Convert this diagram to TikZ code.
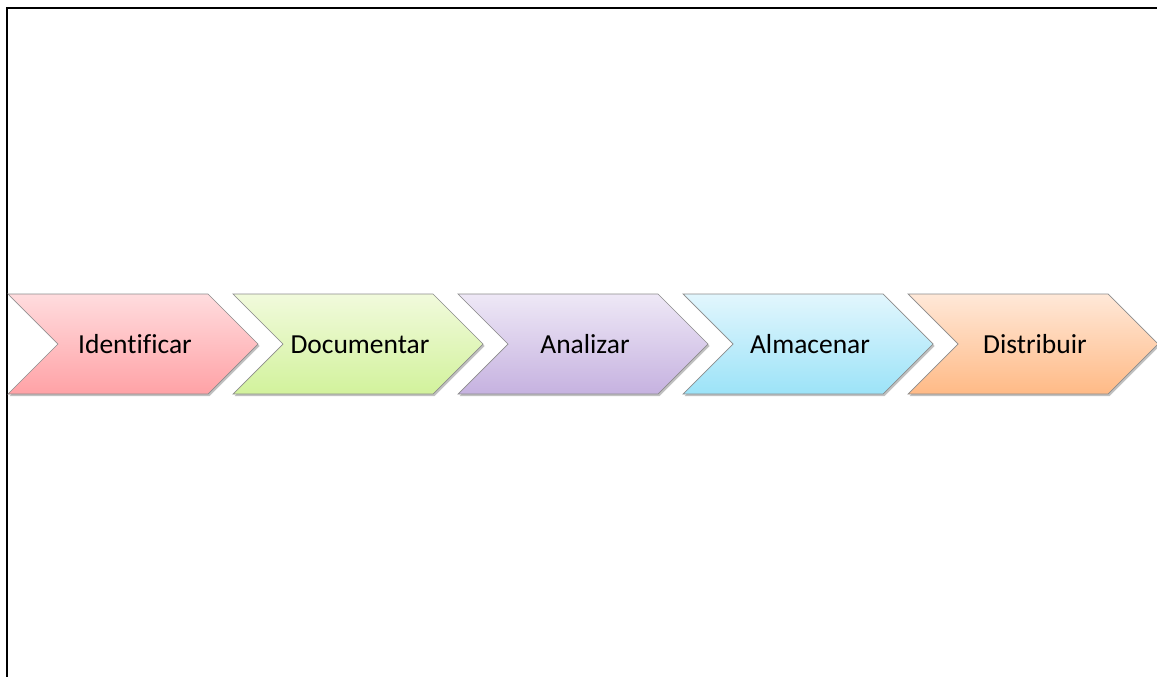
\documentclass[tikz,border=0pt]{standalone}
\usepackage{fontspec}
\setmainfont{Carlito}[Ligatures={NoCommon}]
\usetikzlibrary{shadows}
\definecolor{redtop}{HTML}{FFDCDE}
\definecolor{redbot}{HTML}{FFA2A6}
\definecolor{greentop}{HTML}{F1FADC}
\definecolor{greenbot}{HTML}{D2F29C}
\definecolor{purpletop}{HTML}{EEE8F6}
\definecolor{purplebot}{HTML}{C6B2E0}
\definecolor{bluetop}{HTML}{E2F6FD}
\definecolor{bluebot}{HTML}{9CE3F8}
\definecolor{orangetop}{HTML}{FFE8D8}
\definecolor{orangebot}{HTML}{FFBA86}
\definecolor{edgegray}{HTML}{8C8C8C}
\begin{document}
\begin{tikzpicture}[x=1pt,y=-1pt,
  chevron/.style={draw=edgegray, line width=0.7pt,
    drop shadow={shadow xshift=1.5pt, shadow yshift=-2pt, opacity=0.4, fill=black!60}},
  steplabel/.style={font=\fontsize{27.5}{32}\selectfont, text=black, inner sep=0pt, anchor=base}]
  % canvas and frame
  \fill[white] (0,0) rectangle (1157,677);
  \useasboundingbox (0,0) rectangle (1157,677);
  \draw[line width=2.2pt] (7,678) -- (7,8) -- (1158,8);
  % process chevrons
  \foreach \x/\ct/\cb/\txt/\nm in {
      8/redtop/redbot/Identificar/identificar,
      233/greentop/greenbot/Documentar/documentar,
      458/purpletop/purplebot/Analizar/analizar,
      683/bluetop/bluebot/Almacenar/almacenar,
      908/orangetop/orangebot/Distribuir/distribuir}
  {
    \path[chevron, top color=\ct, bottom color=\cb]
      (\x,294) -- (\x+200,294) -- (\x+250,344) -- (\x+200,394)
      -- (\x,394) -- (\x+50,344) -- cycle;
    \node[steplabel] (\nm) at (\x+127,353) {\txt};
  }
\end{tikzpicture}
\end{document}
